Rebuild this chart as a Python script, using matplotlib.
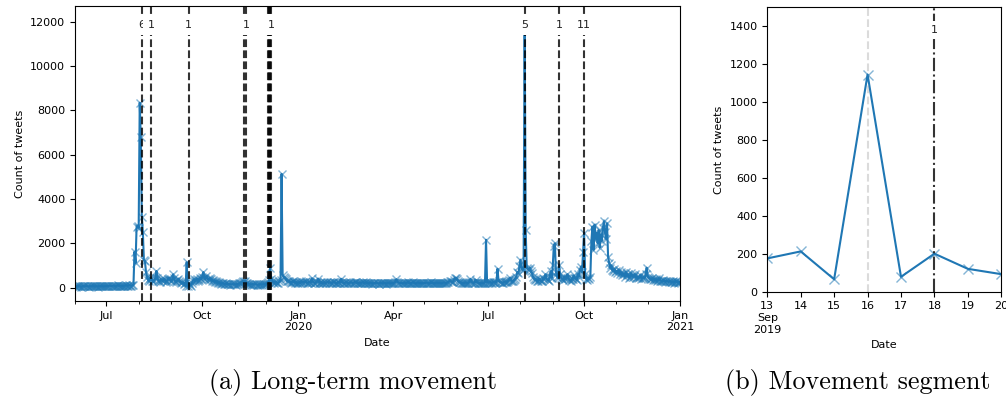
import matplotlib
matplotlib.use('Agg')
import matplotlib.pyplot as plt
import matplotlib.dates as mdates
import matplotlib.ticker as mticker
import numpy as np
import pandas as pd

# ---------------- data: daily tweet counts ----------------
jun19 = [60,45,70,55,80,50,40,65,75,55,60,85,50,45,70,60,55,90,65,50,70,60,45,80,55,65,75,50,60,70]
jul19 = [70,85,60,90,75,65,80,95,70,60,85,100,75,80,90,70,65,95,85,100,80,90,110,95,85,105,120,1620,1100,2750,2800]
aug19 = [2700,8350,6800,3200,2500,1250,1200,700,500,350,300,450,400,320,280,350,420,750,450,300,260,380,330,290,410,350,270,310,380,440,360]
sep19 = [300,350,600,420,280,250,330,400,310,260,220,240,175,212,65,1145,78,200,120,92,210,320,380,290,350,410,300,360,450,380]
oct19 = [500,700,450,380,520,400,350,430,380,300,330,280,260,300,240,220,250,200,180,210,190,160,170,200,150,160,180,140,150,170,160]
nov19 = [150,140,170,160,190,210,230,260,300,240,280,220,200,180,160,150,140,170,130,150,160,140,120,150,130,160,140,150,170,160]
dec19 = [180,200,250,350,900,400,300,250,220,260,240,200,230,280,350,5135,590,480,450,380,300,280,320,250,230,260,300,240,220,250,210]
jan20 = [230,250,200,280,220,260,240,300,210,230,250,270,220,420,260,230,200,240,260,410,230,210,250,190,220,240,200,230,260,210,240]
feb20 = [220,200,240,260,230,210,190,250,230,220,400,240,210,200,230,250,220,190,210,240,230,200,220,260,240,210,230,200,220]
mar20 = [210,230,250,200,220,240,190,210,200,230,220,180,200,210,190,220,200,180,210,230,200,190,220,210,180,200,230,210,190,200,220]
apr20 = [200,220,240,380,260,230,210,200,220,190,210,230,200,220,250,210,190,200,220,240,210,200,190,220,230,200,210,190,220,200]
may20 = [210,200,230,220,190,200,240,210,220,200,190,210,230,200,220,210,190,200,220,230,210,200,240,250,300,280,260,240,350,420,450]
jun20 = [380,300,260,240,230,220,210,200,230,220,200,210,250,400,260,220,210,230,350,240,220,200,210,190,220,200,210,230,2160,220]
jul20 = [240,230,250,220,210,260,240,230,250,850,300,260,240,230,220,250,270,260,240,300,350,450,320,280,300,350,400,500,700,650,960]
aug20 = [1260,900,800,850,12100,2610,900,850,800,900,750,650,500,400,350,380,300,320,400,350,280,300,450,380,600,400,350,320,500,740,450]
sep20 = [1000,1900,2000,700,500,450,1040,600,450,400,350,500,380,420,600,450,350,300,400,380,550,450,400,350,600,500,800,950,700,1600]
oct20 = [2470,600,400,350,450,380,500,2100,2760,1700,2840,2200,2470,2000,2600,1800,2400,2100,2700,2990,2500,2200,2900,1400,1130,900,1000,800,750,850,700]
nov20 = [750,650,800,600,700,550,650,600,500,700,550,600,450,500,650,550,480,520,600,450,500,420,480,550,400,450,500,420,600,900]
dec20 = [500,450,400,380,420,350,400,330,380,300,350,420,320,300,280,350,300,260,320,280,250,300,270,240,280,230,260,300,250,220,260]
jan21 = [240]

start_date = '2019-06-01'
end_date = '2021-01-01'

event_dates = ['2019-08-04', '2019-08-13', '2019-09-18', '2019-11-10', '2019-11-12',
               '2019-12-03', '2019-12-04', '2019-12-05', '2019-12-06',
               '2020-08-05', '2020-09-07', '2020-10-01']
event_labels = ['6', '1', '1', '', '1', '', '', '', '1', '5', '1', '11']

# segment panel (b)
seg_dates = ['2019-09-13', '2019-09-14', '2019-09-15', '2019-09-16',
             '2019-09-17', '2019-09-18', '2019-09-19', '2019-09-20']
seg_values = [175, 212, 65, 1145, 78, 200, 120, 92]
seg_peak_date = '2019-09-16'
seg_event_date = '2019-09-18'
seg_event_label = '1'

captions = ['(a) Long-term movement', '(b) Movement segment']

# ---------------- build ----------------
counts = (jun19 + jul19 + aug19 + sep19 + oct19 + nov19 + dec19 + jan20 + feb20 + mar20 +
          apr20 + may20 + jun20 + jul20 + aug20 + sep20 + oct20 + nov20 + dec20 + jan21)
dates = pd.date_range(start_date, end_date, freq='D')
assert len(dates) == len(counts), (len(dates), len(counts))

C0 = '#1f77b4'
mec = (0.12, 0.47, 0.71, 0.55)
FS = 8

fig = plt.figure(figsize=(10.06, 4.0), dpi=100)

# ----- panel (a)
ax = fig.add_axes([0.0746, 0.2475, 0.6014, 0.7375])
ax.plot(dates, counts, color=C0, lw=1.5, marker='x', ms=5.5, mec=mec, mew=1.0, zorder=2)
for d, lab in zip(event_dates, event_labels):
    dt = pd.Timestamp(d)
    ax.axvline(dt, color='k', ls='--', lw=1.5, alpha=0.8, zorder=3)
    if lab:
        ax.text(dt, 11850, lab, ha='center', va='center', fontsize=FS, color='#222222',
                bbox=dict(facecolor='white', edgecolor='none', pad=3.2), zorder=4)
ax.set_xlim(pd.Timestamp(start_date), pd.Timestamp(end_date))
ax.set_ylim(-605, 12720)
ax.set_yticks(np.arange(0, 12001, 2000))
ax.xaxis.set_major_locator(mdates.MonthLocator(bymonth=[1, 4, 7, 10]))
ax.xaxis.set_minor_locator(mdates.MonthLocator())

def fmt_a(x, pos):
    d = mdates.num2date(x)
    s = d.strftime('%b')
    if d.month == 1:
        s += '\n%d' % d.year
    return s

ax.xaxis.set_major_formatter(mticker.FuncFormatter(fmt_a))
ax.xaxis.set_minor_formatter(mticker.NullFormatter())
ax.tick_params(labelsize=FS)
ax.set_xlabel('Date', fontsize=FS)
ax.set_ylabel('Count of tweets', fontsize=FS)

# ----- panel (b)
bx = fig.add_axes([0.7627, 0.271, 0.2326, 0.711])
sd = pd.to_datetime(seg_dates)
bx.axvline(pd.Timestamp(seg_peak_date), color='lightgray', ls='--', lw=1.5, alpha=0.8, zorder=1)
bx.plot(sd, seg_values, color=C0, lw=1.5, marker='x', ms=7, mec=mec, mew=1.0, zorder=2)
bx.axvline(pd.Timestamp(seg_event_date), color='k', ls='-.', lw=1.5, alpha=0.8, zorder=3)
bx.text(pd.Timestamp(seg_event_date), 1380, seg_event_label, ha='center', va='center',
        fontsize=FS, color='#222222', bbox=dict(facecolor='white', edgecolor='none', pad=3.2), zorder=4)
bx.set_xlim(sd[0], sd[-1])
bx.set_ylim(0, 1500)
bx.set_yticks(np.arange(0, 1401, 200))
bx.set_xticks(sd)

def fmt_b(x, pos):
    d = mdates.num2date(x)
    s = '%d' % d.day
    if pos == 0:
        s += '\n' + d.strftime('%b') + '\n%d' % d.year
    return s

bx.xaxis.set_major_formatter(mticker.FuncFormatter(fmt_b))
bx.tick_params(labelsize=FS)
bx.set_xlabel('Date', fontsize=FS)
bx.set_ylabel('Count of tweets', fontsize=FS)

# ----- captions
fig.text(0.351, 0.0425, captions[0], ha='center', va='center', fontsize=18.8, family='cmr10')
fig.text(0.8525, 0.0425, captions[1], ha='center', va='center', fontsize=18.8, family='cmr10')

fig.savefig('out.png', dpi=100)
